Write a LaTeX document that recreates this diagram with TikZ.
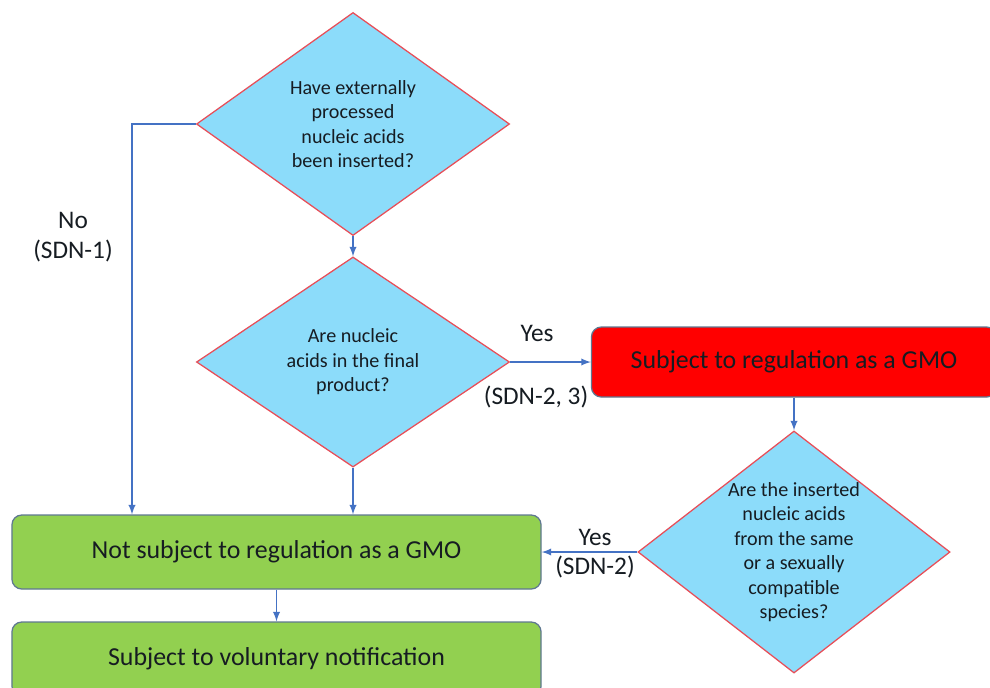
\documentclass[tikz,border=0pt]{standalone}
\usepackage{fontspec}
\setmainfont{Carlito}
\usepackage{tikz}
\usetikzlibrary{shapes.geometric}
\definecolor{qfill}{RGB}{140,220,250}
\definecolor{qborder}{RGB}{232,78,88}
\definecolor{gfill}{RGB}{146,208,80}
\definecolor{boxborder}{RGB}{95,120,145}
\definecolor{flowblue}{RGB}{68,114,196}
\definecolor{txt}{RGB}{22,28,34}
\tikzstyle{decision}=[diamond,draw=qborder,fill=qfill,line width=0.9pt,inner sep=0pt,align=center,text=txt,font=\fontsize{14.3}{17.4}\selectfont]
\tikzstyle{outcome}=[draw=boxborder,fill=gfill,line width=0.9pt,rounded corners=7pt,minimum width=13.225cm,minimum height=1.85cm,text=txt,font=\fontsize{18.4}{22}\selectfont]
\tikzstyle{regulated}=[outcome,fill=red,minimum width=10.125cm,minimum height=1.75cm]
\tikzstyle{edgelabel}=[text=txt,align=center,font=\fontsize{18}{21.5}\selectfont]
\tikzstyle{flow}=[-latex,line width=1.3pt,draw=flowblue]

\begin{document}
\begin{tikzpicture}[x=0.025cm,y=-0.025cm]
\useasboundingbox (0,0) rectangle (990,687);
\clip (0,0) rectangle (990,687);
\node (Q1) [decision,aspect=1.4,minimum width=7.825cm,minimum height=5.575cm] at (353,124) {Have externally\\processed\\nucleic acids\\been inserted?};
\node (Q2) [decision,aspect=1.49,minimum width=7.825cm,minimum height=5.25cm] at (353,362) {Are nucleic\\acids in the final\\product?};
\node (GMO) [regulated] at (794,362) {Subject to regulation as a GMO};
\node (Q3) [decision,aspect=1.29,minimum width=7.8cm,minimum height=6.05cm] at (794,552) {Are the inserted\\nucleic acids\\from the same\\or a sexually\\compatible\\species?};
\node (NotGMO) [outcome] at (276.5,552) {Not subject to regulation as a GMO};
\node (Notify) [outcome] at (276.5,659) {Subject to voluntary notification};
\coordinate (corner) at (132,124);

\node (No) [edgelabel] at (73,237) {No\\(SDN-1)};
\node (Yes1) [edgelabel] at (537,333) {Yes};
\node (SDN23) [edgelabel] at (536,397) {(SDN-2, 3)};
\node (Yes2) [edgelabel] at (595,537) {Yes};
\node (SDN2) [edgelabel] at (595,567) {(SDN-2)};

\draw[flow] (Q1.west) -- (corner) -- (corner |- NotGMO.north);
\draw[flow] (Q1.south) -- (Q2.north);
\draw[flow] (Q2.south) -- (Q2.south |- NotGMO.north);
\draw[flow] (Q2.east) -- (GMO.west);
\draw[flow] (GMO.south) -- (Q3.north);
\draw[flow] (Q3.west) -- (NotGMO.east);
\draw[flow] (NotGMO.south) -- (Notify.north);
\end{tikzpicture}
\end{document}
